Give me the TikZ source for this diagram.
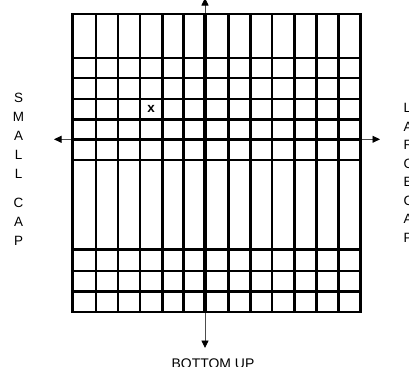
\documentclass[tikz,border=0pt]{standalone}
\usepackage{fontspec}
\setmainfont{Liberation Sans}
\usetikzlibrary{arrows.meta}
\begin{document}
\begin{tikzpicture}[x=1bp,y=-1bp,
  gridline/.style={line width=2.8bp,black},
  axisline/.style={line width=0.9bp,black!70,-{Triangle[length=7.5bp,width=7bp,black]}},
  lbl/.style={font=\fontsize{13.5}{13.5}\selectfont,inner sep=0pt,anchor=center}]
\clip (0,0) rectangle (409,367);
\fill[white] (0,0) rectangle (409,367);
% axes
\coordinate (c) at (205,139.3);
\coordinate (top) at (205,-2);
\coordinate (bot) at (205,348);
\coordinate (lft) at (54,139.3);
\coordinate (rgt) at (380,139.3);
\draw[axisline] (c) -- (top);
\draw[axisline] (c) -- (bot);
\draw[axisline] (c) -- (lft);
\draw[axisline] (c) -- (rgt);
% grid
\foreach \xx in {72.7,96,118,140,162.3,183.7,205,228.3,250.3,272,294.3,316.3,338.3,360.3}
  \draw[gridline] (\xx,14) -- (\xx,312);
\foreach \yy in {14,58,78,99,119.3,139.3,160,249.3,271,291.3,312}
  \draw[gridline,line cap=rect] (72.7,\yy) -- (360.3,\yy);
\draw[line width=3.1bp] (205,14) -- (205,312);
\draw[line width=3.3bp] (72.7,139.3) -- (360.3,139.3);
% mark
\node[lbl,font=\fontsize{13.5}{13.5}\selectfont\bfseries] (xm) at (151,108.5) {x};
% left letters
\foreach \ch/\yy [count=\i] in {S/98,M/117,A/136,L/155,L/174,C/203,A/222,P/241}
  \node[lbl] (s\i) at (18.5,\yy) {\ch};
% right letters
\foreach \ch/\yy [count=\i] in {L/108,A/126.5,R/145,G/163.5,E/182,C/200.5,A/219,P/238}
  \node[lbl,anchor=west] (r\i) at (403.5,\yy) {\ch};
\node[lbl,font=\fontsize{14}{14}\selectfont] (bu) at (213,363.5) {BOTTOM UP};
\end{tikzpicture}
\end{document}
